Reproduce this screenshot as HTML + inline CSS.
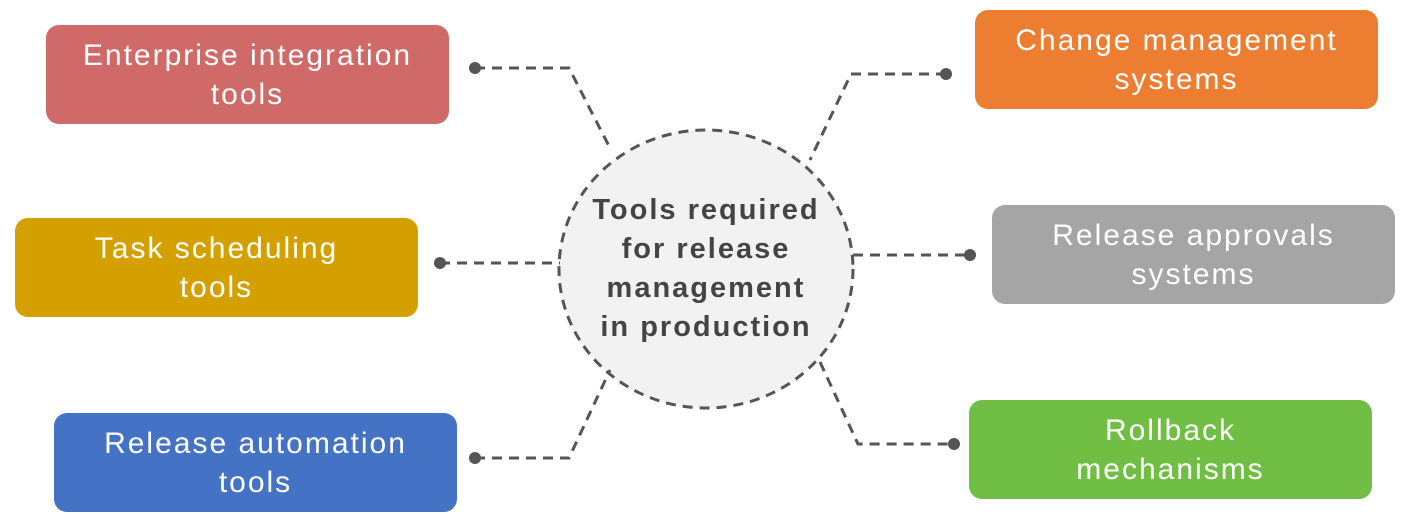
<!DOCTYPE html>
<html><head><meta charset="utf-8"><style>
body{margin:0;width:1410px;height:530px;background:#fff;position:relative;overflow:hidden;font-family:"Liberation Sans",sans-serif}
.b{position:absolute;width:403px;height:99px;border-radius:13px;color:#fff;font-size:30px;letter-spacing:2px;line-height:39px;display:flex;align-items:center;justify-content:center;text-align:center}
.c{position:absolute;left:560px;top:132px;width:292px;height:274px;display:flex;align-items:center;justify-content:center;text-align:center;font-weight:bold;font-size:29px;letter-spacing:2px;line-height:39px;color:#444}
</style></head><body>
<svg width="1410" height="530" style="position:absolute;left:0;top:0">
<g fill="none" stroke="#555" stroke-width="3" stroke-dasharray="10,7">
<ellipse cx="706" cy="269" rx="147" ry="139" fill="#f2f2f2"/>
<polyline points="475,68 569,68 611,150"/>
<polyline points="440,263 560,263"/>
<polyline points="475,458 569,458 610,370"/>
<polyline points="946,74 851,74 810,160"/>
<polyline points="853,255 970,255"/>
<polyline points="820,362 858,444 954,444"/>
</g>
<g fill="#555">
<circle cx="475" cy="68" r="6"/><circle cx="440" cy="263" r="6"/><circle cx="475" cy="458" r="6"/>
<circle cx="946" cy="74" r="6"/><circle cx="970" cy="255" r="6"/><circle cx="954" cy="444" r="6"/>
</g>
</svg>
<div class="b" style="left:46px;top:25px;background:#d06a68">Enterprise integration<br>tools</div>
<div class="b" style="left:15px;top:218px;background:#d4a000">Task scheduling<br>tools</div>
<div class="b" style="left:54px;top:413px;background:#4472c4">Release automation<br>tools</div>
<div class="b" style="left:975px;top:10px;background:#ed7d31">Change management<br>systems</div>
<div class="b" style="left:992px;top:205px;background:#a5a5a5">Release approvals<br>systems</div>
<div class="b" style="left:969px;top:400px;background:#70bf44">Rollback<br>mechanisms</div>
<div class="c">Tools required<br>for release<br>management<br>in production</div>
</body></html>
